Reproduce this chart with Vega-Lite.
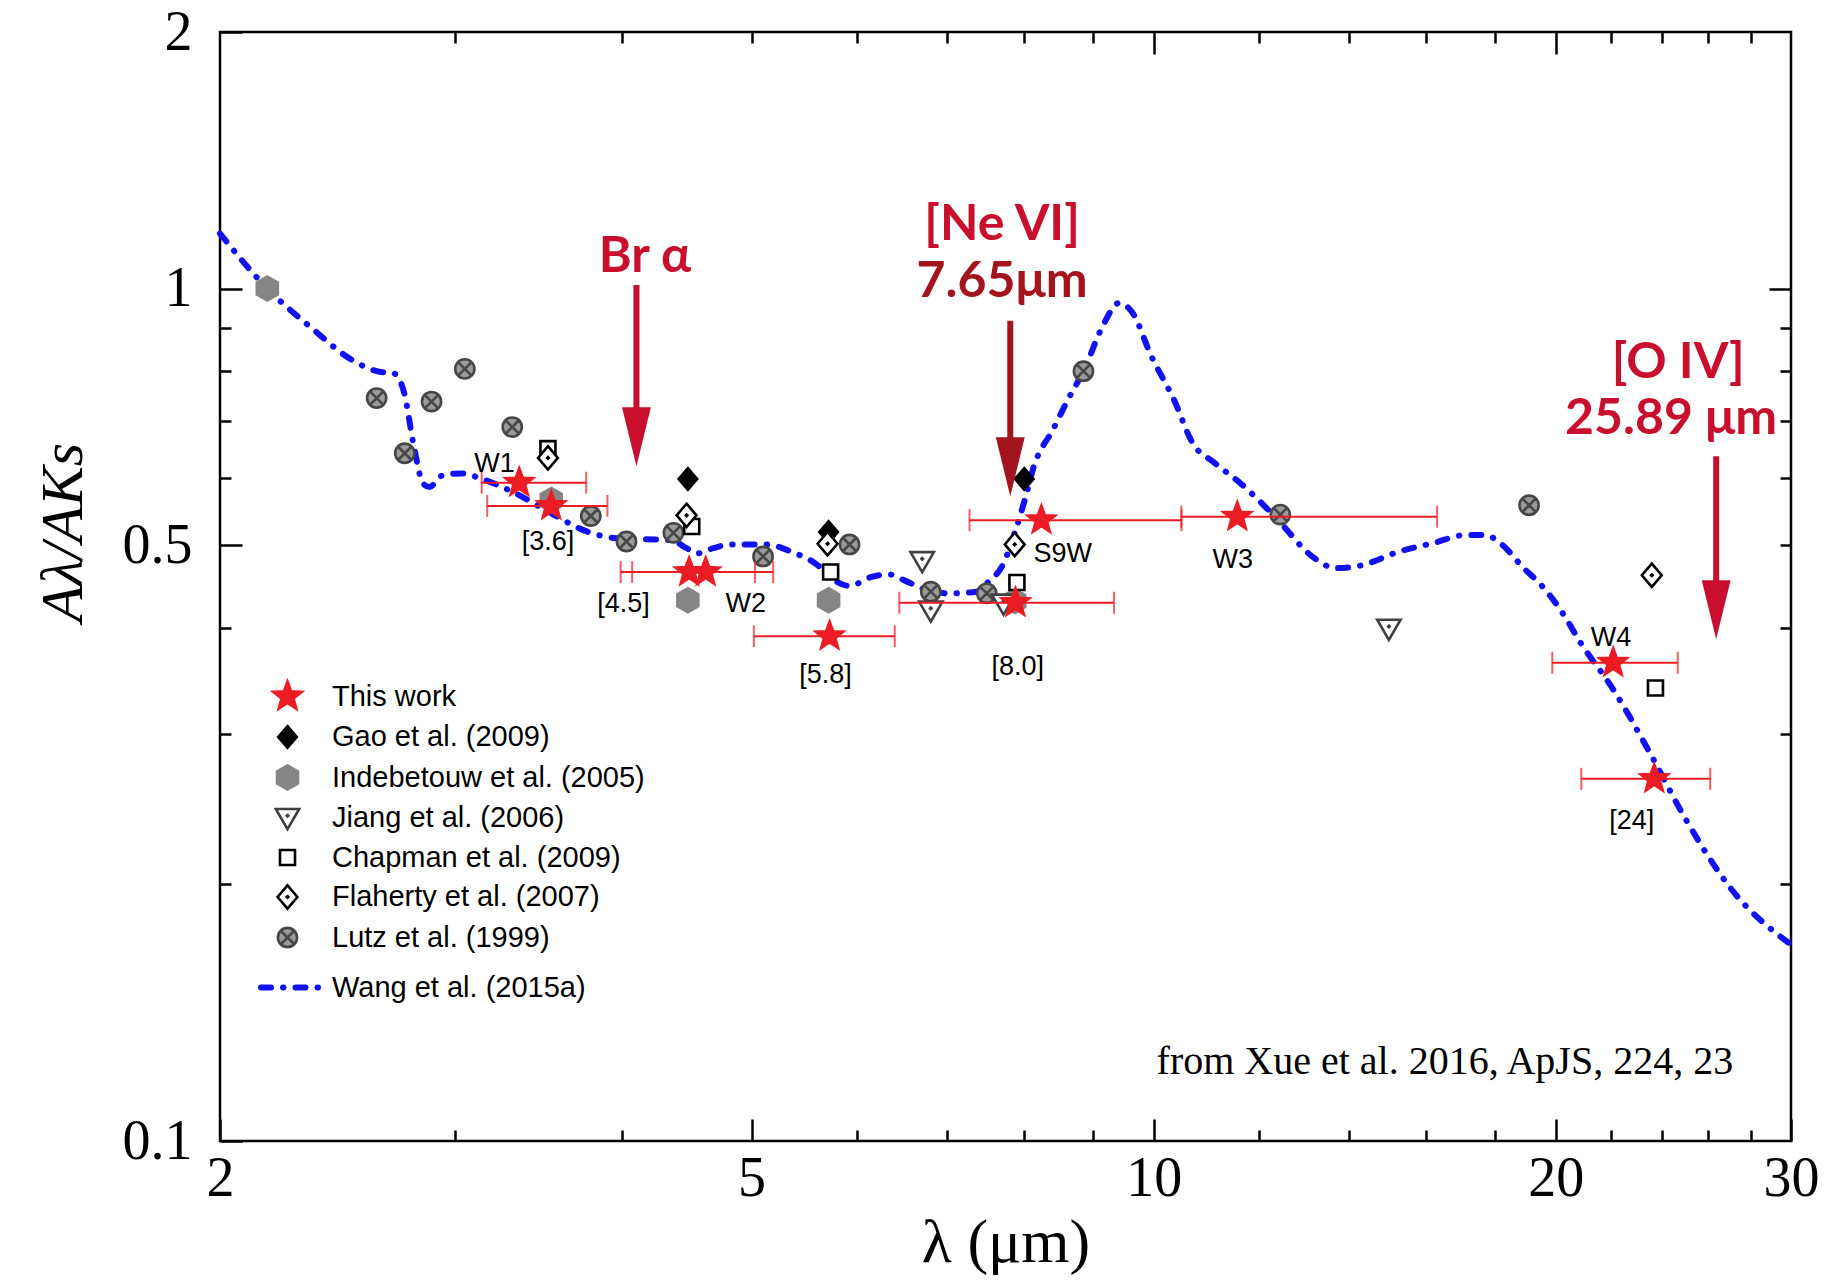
{
  "$schema": "https://vega.github.io/schema/vega-lite/v6.json",
  "width": 1571,
  "height": 1109,
  "autosize": {"type": "none"},
  "padding": {"left": 220, "top": 32, "right": 44, "bottom": 144},
  "background": "white",
  "config": {
    "view": {"stroke": "#000000", "strokeWidth": 2.5},
    "axis": {"grid": false, "domain": false, "tickColor": "#000000", "tickWidth": 2.5, "labelColor": "#000000", "titleColor": "#000000", "labelFlush": false, "labelOverlap": false}
  },
  "datasets": {
    "curve": [
      {"x": 2.0, "y": 1.16}, {"x": 2.17, "y": 1.0}, {"x": 2.34, "y": 0.9}, {"x": 2.51, "y": 0.825},
      {"x": 2.62, "y": 0.8}, {"x": 2.7, "y": 0.795}, {"x": 2.75, "y": 0.75}, {"x": 2.79, "y": 0.66},
      {"x": 2.84, "y": 0.59}, {"x": 2.87, "y": 0.585}, {"x": 2.93, "y": 0.603}, {"x": 3.03, "y": 0.607},
      {"x": 3.15, "y": 0.597}, {"x": 3.33, "y": 0.575}, {"x": 3.54, "y": 0.545}, {"x": 3.75, "y": 0.52},
      {"x": 3.99, "y": 0.509}, {"x": 4.35, "y": 0.507}, {"x": 4.47, "y": 0.496}, {"x": 4.55, "y": 0.489},
      {"x": 4.68, "y": 0.496}, {"x": 4.82, "y": 0.501}, {"x": 5.12, "y": 0.501}, {"x": 5.36, "y": 0.491},
      {"x": 5.61, "y": 0.473}, {"x": 5.74, "y": 0.457}, {"x": 5.92, "y": 0.448}, {"x": 6.15, "y": 0.459},
      {"x": 6.34, "y": 0.462}, {"x": 6.5, "y": 0.455}, {"x": 6.76, "y": 0.443}, {"x": 7.04, "y": 0.439},
      {"x": 7.37, "y": 0.441}, {"x": 7.51, "y": 0.452}, {"x": 7.72, "y": 0.476}, {"x": 7.87, "y": 0.517},
      {"x": 8.03, "y": 0.574}, {"x": 8.13, "y": 0.617}, {"x": 8.41, "y": 0.684}, {"x": 8.63, "y": 0.742},
      {"x": 8.86, "y": 0.8}, {"x": 9.16, "y": 0.904}, {"x": 9.42, "y": 0.962}, {"x": 9.65, "y": 0.935},
      {"x": 9.95, "y": 0.836}, {"x": 10.35, "y": 0.742}, {"x": 10.7, "y": 0.658}, {"x": 11.1, "y": 0.625},
      {"x": 11.6, "y": 0.592}, {"x": 12.06, "y": 0.559}, {"x": 12.5, "y": 0.527}, {"x": 13.06, "y": 0.489},
      {"x": 13.7, "y": 0.47}, {"x": 14.26, "y": 0.473}, {"x": 15.3, "y": 0.492}, {"x": 16.2, "y": 0.503},
      {"x": 17.13, "y": 0.514}, {"x": 17.7, "y": 0.514}, {"x": 18.25, "y": 0.5}, {"x": 18.85, "y": 0.473},
      {"x": 19.6, "y": 0.445}, {"x": 20.2, "y": 0.418}, {"x": 20.9, "y": 0.383}, {"x": 22.1, "y": 0.338},
      {"x": 23.56, "y": 0.284}, {"x": 25.0, "y": 0.239}, {"x": 27.1, "y": 0.197}, {"x": 30.0, "y": 0.17}
    ],
    "pts": [
      {"src": "Lutz et al. (1999)", "x": 2.62, "y": 0.744},
      {"src": "Lutz et al. (1999)", "x": 2.75, "y": 0.641},
      {"src": "Lutz et al. (1999)", "x": 2.88, "y": 0.737},
      {"src": "Lutz et al. (1999)", "x": 3.05, "y": 0.805},
      {"src": "Lutz et al. (1999)", "x": 3.31, "y": 0.688},
      {"src": "Lutz et al. (1999)", "x": 3.79, "y": 0.541},
      {"src": "Lutz et al. (1999)", "x": 4.03, "y": 0.505},
      {"src": "Lutz et al. (1999)", "x": 4.37, "y": 0.517},
      {"src": "Lutz et al. (1999)", "x": 5.1, "y": 0.485},
      {"src": "Lutz et al. (1999)", "x": 5.92, "y": 0.501},
      {"src": "Lutz et al. (1999)", "x": 6.81, "y": 0.441},
      {"src": "Lutz et al. (1999)", "x": 7.5, "y": 0.439},
      {"src": "Lutz et al. (1999)", "x": 8.86, "y": 0.8},
      {"src": "Lutz et al. (1999)", "x": 12.44, "y": 0.543},
      {"src": "Lutz et al. (1999)", "x": 19.1, "y": 0.557},
      {"src": "Indebetouw et al. (2005)", "x": 2.17, "y": 1.0},
      {"src": "Indebetouw et al. (2005)", "x": 3.54, "y": 0.565},
      {"src": "Indebetouw et al. (2005)", "x": 4.48, "y": 0.431},
      {"src": "Indebetouw et al. (2005)", "x": 5.71, "y": 0.431},
      {"src": "Indebetouw et al. (2005)", "x": 7.87, "y": 0.43},
      {"src": "Jiang et al. (2006)", "x": 6.71, "y": 0.479},
      {"src": "Jiang et al. (2006)", "x": 6.81, "y": 0.419},
      {"src": "Jiang et al. (2006)", "x": 7.72, "y": 0.427},
      {"src": "Jiang et al. (2006)", "x": 15.0, "y": 0.399},
      {"src": "Gao et al. (2009)", "x": 4.48, "y": 0.598},
      {"src": "Gao et al. (2009)", "x": 5.71, "y": 0.518},
      {"src": "Gao et al. (2009)", "x": 8.0, "y": 0.598},
      {"src": "Chapman et al. (2009)", "x": 3.52, "y": 0.649},
      {"src": "Chapman et al. (2009)", "x": 4.51, "y": 0.526},
      {"src": "Chapman et al. (2009)", "x": 5.73, "y": 0.465},
      {"src": "Chapman et al. (2009)", "x": 7.9, "y": 0.452},
      {"src": "Chapman et al. (2009)", "x": 23.75, "y": 0.34},
      {"src": "Flaherty et al. (2007)", "x": 3.52, "y": 0.633},
      {"src": "Flaherty et al. (2007)", "x": 4.47, "y": 0.542},
      {"src": "Flaherty et al. (2007)", "x": 5.7, "y": 0.502},
      {"src": "Flaherty et al. (2007)", "x": 7.87, "y": 0.501},
      {"src": "Flaherty et al. (2007)", "x": 23.6, "y": 0.461}
    ],
    "work": [
      {"src": "This work", "band": "W1", "x": 3.35, "y": 0.592, "lo": 3.14, "hi": 3.76},
      {"src": "This work", "band": "[3.6]", "x": 3.54, "y": 0.556, "lo": 3.17, "hi": 3.9},
      {"src": "This work", "band": "[4.5]", "x": 4.49, "y": 0.465, "lo": 3.99, "hi": 5.03},
      {"src": "This work", "band": "W2", "x": 4.62, "y": 0.465, "lo": 4.07, "hi": 5.19},
      {"src": "This work", "band": "[5.8]", "x": 5.72, "y": 0.391, "lo": 5.02, "hi": 6.4},
      {"src": "This work", "band": "[8.0]", "x": 7.88, "y": 0.428, "lo": 6.45, "hi": 9.34},
      {"src": "This work", "band": "S9W", "x": 8.24, "y": 0.535, "lo": 7.28, "hi": 10.49},
      {"src": "This work", "band": "W3", "x": 11.55, "y": 0.54, "lo": 10.49, "hi": 16.3},
      {"src": "This work", "band": "W4", "x": 22.08, "y": 0.364, "lo": 19.88, "hi": 24.68},
      {"src": "This work", "band": "[24]", "x": 23.7, "y": 0.266, "lo": 20.9, "hi": 26.1}
    ],
    "labels": [
      {"t": "W1", "x": 3.21, "y": 0.61},
      {"t": "[3.6]", "x": 3.52, "y": 0.494},
      {"t": "[4.5]", "x": 4.01, "y": 0.417},
      {"t": "W2", "x": 4.95, "y": 0.417},
      {"t": "[5.8]", "x": 5.68, "y": 0.345},
      {"t": "S9W", "x": 8.55, "y": 0.478},
      {"t": "[8.0]", "x": 7.91, "y": 0.352},
      {"t": "W3", "x": 11.46, "y": 0.47},
      {"t": "W4", "x": 22.0, "y": 0.381},
      {"t": "[24]", "x": 22.8, "y": 0.232}
    ],
    "notes": [
      {"t": "Br α", "x": 4.16, "y": 1.047},
      {"t": "[Ne VI]", "x": 7.7, "y": 1.14},
      {"t": "7.65μm", "x": 7.7, "y": 0.978},
      {"t": "[O IV]", "x": 24.7, "y": 0.785},
      {"t": "25.89 μm", "x": 24.4, "y": 0.675}
    ],
    "arrows": [
      {"line": "Br", "x": 4.1, "top": 1.01, "head": 0.67},
      {"line": "Ne", "x": 7.81, "top": 0.917, "head": 0.618},
      {"line": "O", "x": 26.37, "top": 0.636, "head": 0.42}
    ],
    "source": [
      {"t": "from Xue et al. 2016, ApJS, 224, 23", "x": 10.05, "y": 0.1197}
    ]
  },
  "resolve": {"axis": {"x": "independent", "y": "independent"}},
  "layer": [
    {
      "data": {"name": "curve"},
      "transform": [{"calculate": "'Wang et al. (2015a)'", "as": "model"}],
      "mark": {"type": "line", "color": "#1212F0", "strokeWidth": 6, "strokeCap": "round", "interpolate": "monotone"},
      "encoding": {
        "x": {"field": "x", "type": "quantitative", "scale": {"type": "log", "domain": [2, 30], "nice": false},
          "axis": {"orient": "bottom", "values": [3, 4, 6, 7, 8, 9, 12, 14, 16, 18, 22, 24, 26, 28], "labels": false, "tickSize": -11, "title": null}},
        "y": {"field": "y", "type": "quantitative", "scale": {"type": "log", "domain": [0.1, 2], "nice": false},
          "axis": {"orient": "left", "values": [0.2, 0.3, 0.4, 0.6, 0.7, 0.8, 0.9], "labels": false, "tickSize": -11, "title": null}},
        "strokeDash": {"field": "model", "type": "nominal",
          "scale": {"domain": ["Wang et al. (2015a)"], "range": [[10, 12, 0.5, 12]]},
          "legend": {"orient": "none", "legendX": 38, "legendY": 919, "title": null, "padding": 0,
            "symbolType": "stroke", "symbolStrokeColor": "#1212F0", "symbolStrokeWidth": 6, "symbolSize": 4489,
            "labelFont": "Liberation Sans", "labelFontSize": 29, "labelColor": "#000000", "labelOffset": 1, "labelLimit": 600,
            "encode": {"symbols": {"update": {"strokeCap": {"value": "round"}}}}}}
      }
    },
    {
      "data": {"name": "pts"},
      "mark": {"type": "point", "size": 900, "strokeWidth": 2.6, "opacity": 1},
      "encoding": {
        "x": {"field": "x", "type": "quantitative", "scale": {"type": "log", "domain": [2, 30], "nice": false},
          "axis": {"orient": "bottom", "values": [2, 5, 10, 20, 30], "format": "~g", "tickSize": -22, "labelPadding": 32,
            "labelFont": "Liberation Serif", "labelFontSize": 56, "title": "λ (μm)", "titleFont": "Liberation Serif",
            "titleFontSize": 62, "titleFontWeight": "normal", "titlePadding": 6}},
        "y": {"field": "y", "type": "quantitative", "scale": {"type": "log", "domain": [0.1, 2], "nice": false},
          "axis": {"orient": "left", "values": [0.1, 0.5, 1, 2], "format": "~g", "tickSize": -22, "labelPadding": 50,
            "labelFont": "Liberation Serif", "labelFontSize": 56, "title": "Aλ/AKs", "titleFont": "Liberation Serif",
            "titleFontSize": 60, "titleFontStyle": "italic", "titleFontWeight": "normal", "titlePadding": 28, "titleY": 500}},
        "shape": {"field": "src", "type": "nominal",
          "scale": {"domain": ["This work", "Gao et al. (2009)", "Indebetouw et al. (2005)", "Jiang et al. (2006)", "Chapman et al. (2009)", "Flaherty et al. (2007)", "Lutz et al. (1999)"],
            "range": [
              "M0,-1L0.247,-0.34L0.951,-0.309L0.399,0.13L0.588,0.809L0,0.42L-0.588,0.809L-0.399,0.13L-0.951,-0.309L-0.247,-0.34Z",
              "M0,-0.72L0.62,0L0,0.72L-0.62,0Z",
              "M0,-0.8L0.7,-0.4L0.7,0.4L0,0.8L-0.7,0.4L-0.7,-0.4Z",
              "M-0.78,-0.6L0.78,-0.6L0,0.74Z M0,-0.2L0.05,-0.15L0,-0.1L-0.05,-0.15Z",
              "M-0.5,-0.5L0.5,-0.5L0.5,0.5L-0.5,0.5Z",
              "M0,-0.78L0.66,0L0,0.78L-0.66,0Z M0,-0.05L0.05,0L0,0.05L-0.05,0Z",
              "M0.64,0A0.64,0.64 0 1,1 -0.64,0A0.64,0.64 0 1,1 0.64,0Z M-0.45,-0.45L0.45,0.45 M0.45,-0.45L-0.45,0.45"
            ]},
          "legend": {"orient": "none", "legendX": 51, "legendY": 648, "title": null, "padding": 0, "rowPadding": 6.5,
            "symbolSize": 900, "symbolStrokeWidth": 2.6, "labelFont": "Liberation Sans", "labelFontSize": 29,
            "labelColor": "#000000", "labelOffset": 28, "labelLimit": 600}},
        "fill": {"field": "src", "type": "nominal",
          "scale": {"domain": ["This work", "Gao et al. (2009)", "Indebetouw et al. (2005)", "Jiang et al. (2006)", "Chapman et al. (2009)", "Flaherty et al. (2007)", "Lutz et al. (1999)"],
            "range": ["#EC1C24", "#000000", "#858585", "#ffffff", "#ffffff", "#ffffff", "#9a9a9a"]},
          "legend": {"orient": "none", "legendX": 51, "legendY": 648, "title": null, "padding": 0, "rowPadding": 6.5,
            "symbolSize": 900, "symbolStrokeWidth": 2.6, "labelFont": "Liberation Sans", "labelFontSize": 29,
            "labelColor": "#000000", "labelOffset": 28, "labelLimit": 600}},
        "stroke": {"field": "src", "type": "nominal",
          "scale": {"domain": ["This work", "Gao et al. (2009)", "Indebetouw et al. (2005)", "Jiang et al. (2006)", "Chapman et al. (2009)", "Flaherty et al. (2007)", "Lutz et al. (1999)"],
            "range": ["#EC1C24", "#000000", "#858585", "#404040", "#000000", "#000000", "#464646"]},
          "legend": {"orient": "none", "legendX": 51, "legendY": 648, "title": null, "padding": 0, "rowPadding": 6.5,
            "symbolSize": 900, "symbolStrokeWidth": 2.6, "labelFont": "Liberation Sans", "labelFontSize": 29,
            "labelColor": "#000000", "labelOffset": 28, "labelLimit": 600}}
      }
    },
    {
      "data": {"name": "work"},
      "mark": {"type": "rule", "color": "#EC1C24", "strokeWidth": 2},
      "encoding": {
        "x": {"field": "lo", "type": "quantitative", "scale": {"type": "log", "domain": [2, 30], "nice": false},
          "axis": {"orient": "top", "values": [10, 20], "labels": false, "tickSize": -22, "title": null}},
        "x2": {"field": "hi"},
        "y": {"field": "y", "type": "quantitative", "scale": {"type": "log", "domain": [0.1, 2], "nice": false},
          "axis": {"orient": "right", "values": [1], "labels": false, "tickSize": -22, "title": null}}
      }
    },
    {
      "data": {"name": "work"},
      "mark": {"type": "tick", "color": "#EC1C24", "orient": "vertical", "size": 22, "thickness": 2},
      "encoding": {
        "x": {"field": "lo", "type": "quantitative", "scale": {"type": "log", "domain": [2, 30], "nice": false},
          "axis": {"orient": "top", "values": [3, 4, 5, 6, 7, 8, 9, 12, 14, 16, 18, 22, 24, 26, 28], "labels": false, "tickSize": -11, "title": null}},
        "y": {"field": "y", "type": "quantitative", "scale": {"type": "log", "domain": [0.1, 2], "nice": false},
          "axis": {"orient": "right", "values": [0.2, 0.3, 0.4, 0.5, 0.6, 0.7, 0.8, 0.9], "labels": false, "tickSize": -11, "title": null}}
      }
    },
    {
      "data": {"name": "work"},
      "mark": {"type": "tick", "color": "#EC1C24", "orient": "vertical", "size": 22, "thickness": 2},
      "encoding": {
        "x": {"field": "hi", "type": "quantitative", "scale": {"type": "log", "domain": [2, 30], "nice": false}, "axis": null},
        "y": {"field": "y", "type": "quantitative", "scale": {"type": "log", "domain": [0.1, 2], "nice": false}, "axis": null}
      }
    },
    {
      "data": {"name": "work"},
      "mark": {"type": "point", "size": 900, "strokeWidth": 2.2, "opacity": 1},
      "encoding": {
        "x": {"field": "x", "type": "quantitative", "scale": {"type": "log", "domain": [2, 30], "nice": false}, "axis": null},
        "y": {"field": "y", "type": "quantitative", "scale": {"type": "log", "domain": [0.1, 2], "nice": false}, "axis": null},
        "shape": {"field": "src", "type": "nominal"},
        "fill": {"field": "src", "type": "nominal"},
        "stroke": {"field": "src", "type": "nominal"}
      }
    },
    {
      "data": {"name": "labels"},
      "mark": {"type": "text", "font": "Liberation Sans", "fontSize": 27, "color": "#000000", "align": "center", "baseline": "alphabetic"},
      "encoding": {
        "x": {"field": "x", "type": "quantitative", "scale": {"type": "log", "domain": [2, 30], "nice": false}, "axis": null},
        "y": {"field": "y", "type": "quantitative", "scale": {"type": "log", "domain": [0.1, 2], "nice": false}, "axis": null},
        "text": {"field": "t"}
      }
    },
    {
      "data": {"name": "notes"},
      "mark": {"type": "text", "font": "Lato", "fontWeight": "bold", "fontSize": 50, "align": "center", "baseline": "alphabetic"},
      "encoding": {
        "x": {"field": "x", "type": "quantitative", "scale": {"type": "log", "domain": [2, 30], "nice": false}, "axis": null},
        "y": {"field": "y", "type": "quantitative", "scale": {"type": "log", "domain": [0.1, 2], "nice": false}, "axis": null},
        "text": {"field": "t"},
        "color": {"condition": {"test": "datum.t === '7.65μm'", "value": "#A3141C"}, "value": "#C8102E"}
      }
    },
    {
      "data": {"name": "arrows"},
      "mark": {"type": "rule", "strokeWidth": 6},
      "encoding": {
        "x": {"field": "x", "type": "quantitative", "scale": {"type": "log", "domain": [2, 30], "nice": false}, "axis": null},
        "y": {"field": "top", "type": "quantitative", "scale": {"type": "log", "domain": [0.1, 2], "nice": false}, "axis": null},
        "y2": {"field": "head"},
        "color": {"condition": {"test": "datum.line === 'Ne'", "value": "#A3141C"}, "value": "#C8102E"}
      }
    },
    {
      "data": {"name": "arrows"},
      "mark": {"type": "point", "shape": "M-0.49,-1L0.49,-1L0,1Z", "size": 3481, "filled": true, "opacity": 1, "strokeWidth": 0},
      "encoding": {
        "x": {"field": "x", "type": "quantitative", "scale": {"type": "log", "domain": [2, 30], "nice": false}, "axis": null},
        "y": {"field": "head", "type": "quantitative", "scale": {"type": "log", "domain": [0.1, 2], "nice": false}, "axis": null},
        "color": {"condition": {"test": "datum.line === 'Ne'", "value": "#A3141C"}, "value": "#C8102E"}
      }
    },
    {
      "data": {"name": "source"},
      "mark": {"type": "text", "font": "Liberation Serif", "fontSize": 40, "color": "#000000", "align": "left", "baseline": "alphabetic"},
      "encoding": {
        "x": {"field": "x", "type": "quantitative", "scale": {"type": "log", "domain": [2, 30], "nice": false}, "axis": null},
        "y": {"field": "y", "type": "quantitative", "scale": {"type": "log", "domain": [0.1, 2], "nice": false}, "axis": null},
        "text": {"field": "t"}
      }
    }
  ]
}
